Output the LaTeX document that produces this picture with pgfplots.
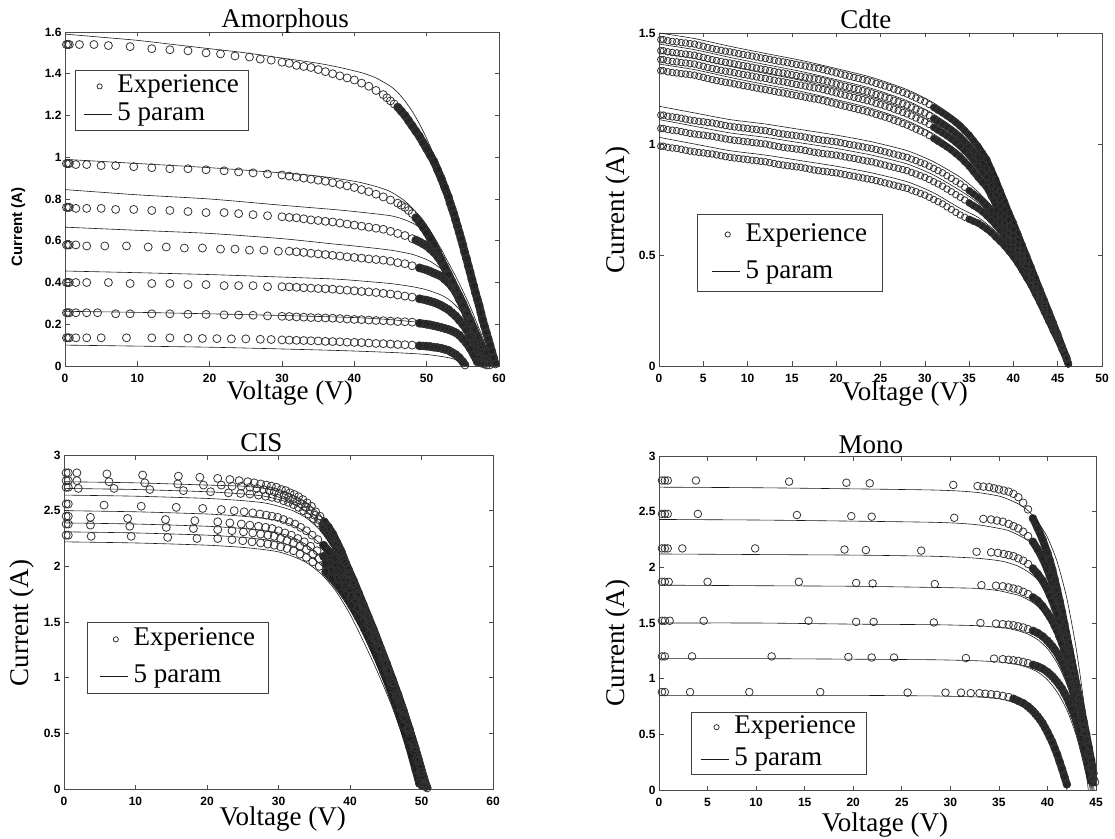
\documentclass[border=0pt]{standalone}
\usepackage{fontspec}
\setmainfont{Liberation Serif}
\newfontfamily\sansf{Liberation Sans}
\usepackage{pgfplots}
\usepackage{pgfplotstable}
\pgfplotsset{compat=1.18}

\newcommand\tickf{\sansf\bfseries\fontsize{12}{12}\selectfont}
\newcommand\labf{\fontsize{27}{29}\selectfont}
\newcommand\titf{\fontsize{27}{29}\selectfont}

\pgfplotsset{
  panel/.style={
    scale only axis,
    axis line style={black!70, line width=0.7pt},
    tick align=inside,
    major tick length=4.5pt,
    every tick/.style={black!70, line width=0.6pt},
    tick label style={font=\tickf},
    xticklabel style={yshift=-5pt},
    /pgf/number format/assume math mode=true,
    title style={font=\titf, anchor=base},
    xlabel style={font=\labf, anchor=base},
    ylabel style={font=\labf, anchor=center},
    legend cell align=left,
    legend style={draw=black!75, line width=0.7pt, fill=white, font=\labf,
      nodes={inner sep=1.5pt, text height=19pt, text depth=6pt},
      /tikz/every odd column/.append style={column sep=4pt}},
  },
  exp/.style={only marks, mark=o, mark size=4pt,
    mark options={draw=black!80, line width=0.8pt},
    legend image code/.code={\path[draw=none] (0pt,0pt) -- (28pt,0pt);
      \draw[##1, only marks, mark size=2.6pt] plot coordinates {(16pt,0pt)};}},
  fit/.style={no marks, smooth, tension=0.4, black!90, line width=0.6pt,
    legend image code/.code={\draw[##1, sharp plot] (0pt,0pt) -- (28pt,0pt);}},
  % where the measured points are so dense that they merge into a black band
  band/.style={no marks, forget plot, black!85, line width=8pt,
    line cap=round, line join=round},
}

% ---------- Amorphous, measured ----------
\pgfplotstableread[row sep=\\]{V I\\
0.2 1.54\\0.4 1.54\\0.6 1.54\\2 1.54\\4 1.54\\6 1.535\\9 1.53\\12 1.52\\14.5 1.515\\17 1.51\\19.5 1.50\\21.5 1.495\\23.5 1.485\\25.5 1.48\\27 1.47\\28.5 1.465\\30 1.455\\31 1.45\\32 1.44\\33 1.435\\34 1.43\\35 1.42\\36 1.41\\37 1.40\\38 1.39\\39 1.38\\40 1.37\\41 1.355\\42 1.34\\43 1.32\\44 1.30\\44.5 1.285\\45 1.27\\45.5 1.255\\46 1.24\\46.5 1.22\\47 1.20\\47.5 1.175\\48 1.15\\48.5 1.125\\49 1.10\\49.5 1.07\\50 1.04\\50.5 1.01\\51 0.98\\51.5 0.94\\52 0.90\\52.5 0.855\\53 0.81\\53.25 0.78\\53.5 0.755\\53.75 0.73\\54 0.70\\54.25 0.67\\54.5 0.64\\54.75 0.61\\55 0.58\\55.25 0.545\\55.5 0.515\\55.75 0.48\\56 0.45\\56.25 0.415\\56.5 0.385\\56.75 0.35\\57 0.32\\57.25 0.29\\57.5 0.255\\57.75 0.22\\58 0.19\\58.25 0.16\\58.5 0.13\\58.75 0.10\\59 0.07\\59.25 0.04\\59.5 0.01\\
}\amA
\pgfplotstableread[row sep=\\]{V I\\
0.2 0.97\\0.4 0.97\\0.6 0.97\\1.5 0.965\\3 0.965\\5 0.96\\7 0.96\\9.5 0.955\\12 0.95\\14.5 0.945\\17 0.945\\19.5 0.94\\22 0.935\\24 0.93\\26 0.925\\28 0.92\\30 0.915\\31 0.91\\32 0.905\\33 0.90\\34 0.895\\35 0.89\\36 0.885\\37 0.878\\38 0.87\\39 0.863\\40 0.855\\41 0.845\\42 0.835\\43 0.823\\44 0.81\\45 0.795\\46 0.78\\46.5 0.77\\47 0.76\\47.5 0.745\\48 0.73\\48.5 0.71\\49 0.69\\49.5 0.665\\50 0.64\\50.5 0.61\\51 0.58\\51.5 0.545\\52 0.51\\52.5 0.475\\53 0.44\\53.5 0.405\\54 0.37\\54.5 0.335\\55 0.30\\55.5 0.26\\56 0.22\\56.5 0.18\\57 0.14\\57.5 0.10\\58 0.06\\58.5 0.02\\58.7 0.005\\
}\amB
\pgfplotstableread[row sep=\\]{V I\\
0.2 0.76\\0.4 0.76\\0.6 0.76\\1.5 0.755\\3 0.755\\5 0.755\\7 0.75\\9.5 0.75\\12 0.745\\14.5 0.745\\17 0.74\\19.5 0.735\\22 0.735\\24 0.73\\26 0.725\\28 0.72\\30 0.715\\31 0.712\\32 0.71\\33 0.705\\34 0.70\\35 0.697\\36 0.693\\37 0.69\\38 0.685\\39 0.68\\40 0.675\\41 0.67\\42 0.665\\43 0.66\\44 0.655\\45 0.645\\46 0.635\\47 0.625\\48 0.61\\48.5 0.603\\49 0.595\\49.5 0.585\\50 0.575\\50.5 0.56\\51 0.545\\51.5 0.525\\52 0.50\\52.5 0.47\\53 0.435\\53.5 0.40\\54 0.365\\54.5 0.328\\55 0.29\\55.5 0.25\\56 0.21\\56.5 0.17\\57 0.125\\57.5 0.08\\58 0.035\\58.3 0.005\\
}\amC
\pgfplotstableread[row sep=\\]{V I\\
0.2 0.58\\0.4 0.58\\0.6 0.58\\1.5 0.58\\3 0.575\\5.5 0.575\\8.5 0.575\\11.5 0.57\\14 0.57\\16.5 0.565\\19 0.565\\21.5 0.56\\23.5 0.56\\25.5 0.555\\27.5 0.555\\29.5 0.55\\31 0.55\\32 0.547\\33 0.544\\34 0.54\\35 0.537\\36 0.534\\37 0.53\\38 0.527\\39 0.523\\40 0.52\\41 0.517\\42 0.513\\43 0.51\\44 0.507\\45 0.502\\46 0.495\\47 0.49\\48 0.48\\49 0.47\\50 0.46\\50.5 0.453\\51 0.445\\51.5 0.438\\52 0.43\\52.5 0.415\\53 0.40\\53.5 0.38\\54 0.355\\54.5 0.32\\55 0.285\\55.5 0.245\\56 0.205\\56.5 0.16\\57 0.115\\57.5 0.065\\57.9 0.01\\
}\amD
\pgfplotstableread[row sep=\\]{V I\\
0.2 0.40\\0.4 0.40\\0.6 0.40\\1.5 0.40\\3 0.40\\6 0.40\\9 0.395\\12 0.395\\14.5 0.395\\17 0.39\\19.5 0.39\\22 0.385\\24 0.385\\26 0.385\\28 0.38\\30 0.38\\31 0.379\\32 0.377\\33 0.375\\34 0.373\\35 0.371\\36 0.37\\37 0.368\\38 0.365\\39 0.363\\40 0.36\\41 0.357\\42 0.355\\43 0.352\\44 0.348\\45 0.345\\46 0.34\\47 0.335\\48 0.33\\49 0.322\\50 0.315\\50.5 0.31\\51 0.305\\51.5 0.298\\52 0.29\\52.5 0.28\\53 0.27\\53.5 0.255\\54 0.24\\54.5 0.22\\55 0.20\\55.5 0.175\\56 0.145\\56.5 0.11\\57 0.07\\57.3 0.04\\57.5 0.015\\
}\amE
\pgfplotstableread[row sep=\\]{V I\\
0.2 0.255\\0.4 0.255\\0.6 0.255\\1.5 0.255\\3 0.255\\4.5 0.255\\7 0.25\\9 0.25\\12 0.25\\14.5 0.25\\17 0.248\\19.5 0.247\\22 0.245\\24 0.244\\26 0.243\\28 0.24\\30 0.238\\31 0.237\\32 0.235\\33 0.234\\34 0.232\\35 0.231\\36 0.23\\37 0.229\\38 0.227\\39 0.225\\40 0.223\\41 0.222\\42 0.22\\43 0.218\\44 0.217\\45 0.215\\46 0.213\\47 0.212\\48 0.21\\49 0.205\\50 0.20\\50.5 0.197\\51 0.193\\51.5 0.189\\52 0.185\\52.5 0.18\\53 0.175\\53.5 0.168\\54 0.16\\54.5 0.148\\55 0.13\\55.5 0.11\\56 0.085\\56.5 0.055\\57 0.02\\
}\amF
\pgfplotstableread[row sep=\\]{V I\\
0.2 0.135\\0.4 0.135\\0.6 0.135\\1.5 0.135\\3 0.135\\5 0.135\\8.5 0.135\\12 0.135\\14.5 0.135\\17 0.133\\19 0.132\\21 0.131\\23 0.13\\25 0.13\\27 0.128\\28.5 0.127\\30 0.125\\31 0.124\\32 0.123\\33 0.122\\34 0.121\\35 0.12\\36 0.118\\37 0.117\\38 0.116\\39 0.114\\40 0.113\\41 0.112\\42 0.11\\43 0.108\\44 0.107\\45 0.105\\46 0.103\\47 0.102\\48 0.10\\49 0.097\\50 0.095\\50.5 0.093\\51 0.09\\51.5 0.088\\52 0.085\\52.5 0.08\\53 0.075\\53.5 0.065\\54 0.055\\54.5 0.04\\55 0.02\\55.3 0.005\\
}\amG

% ---------- Cdte, measured (common voltage grid) ----------
\pgfplotstableread{
V C1 C2 C3 C4 C5 C6 C7
0.2 1.47 1.42 1.38 1.33 1.13 1.07 0.99
0.5 1.47 1.42 1.38 1.33 1.13 1.07 0.99
1 1.465 1.415 1.375 1.325 1.125 1.065 0.985
1.5 1.462 1.412 1.372 1.322 1.122 1.062 0.982
2 1.46 1.41 1.37 1.32 1.12 1.06 0.98
2.5 1.457 1.407 1.367 1.317 1.116 1.056 0.976
3 1.455 1.405 1.365 1.315 1.112 1.052 0.972
3.5 1.452 1.402 1.362 1.312 1.108 1.048 0.968
4 1.45 1.40 1.36 1.31 1.105 1.045 0.965
4.5 1.445 1.395 1.355 1.305 1.102 1.042 0.962
5 1.44 1.39 1.35 1.30 1.10 1.04 0.96
5.5 1.435 1.385 1.345 1.295 1.097 1.037 0.957
6 1.43 1.38 1.34 1.29 1.095 1.035 0.955
6.5 1.426 1.376 1.336 1.286 1.091 1.031 0.951
7 1.422 1.372 1.332 1.282 1.087 1.027 0.947
7.5 1.418 1.368 1.328 1.278 1.083 1.023 0.943
8 1.415 1.365 1.325 1.275 1.08 1.02 0.94
8.5 1.411 1.361 1.321 1.271 1.077 1.017 0.937
9 1.407 1.357 1.317 1.267 1.075 1.015 0.935
9.5 1.403 1.353 1.313 1.263 1.072 1.012 0.932
10 1.40 1.35 1.31 1.26 1.07 1.01 0.93
10.5 1.396 1.346 1.306 1.256 1.067 1.007 0.927
11 1.392 1.342 1.302 1.252 1.065 1.005 0.925
11.5 1.388 1.338 1.298 1.248 1.062 1.002 0.922
12 1.385 1.335 1.295 1.245 1.06 1.00 0.92
12.5 1.381 1.331 1.291 1.241 1.056 0.996 0.916
13 1.377 1.327 1.287 1.237 1.052 0.992 0.912
13.5 1.373 1.323 1.283 1.233 1.048 0.988 0.908
14 1.37 1.32 1.28 1.23 1.045 0.985 0.905
14.5 1.366 1.316 1.276 1.226 1.042 0.982 0.902
15 1.362 1.312 1.272 1.222 1.04 0.98 0.90
15.5 1.358 1.308 1.268 1.218 1.037 0.977 0.897
16 1.355 1.305 1.265 1.215 1.035 0.975 0.895
16.5 1.351 1.301 1.261 1.211 1.031 0.971 0.891
17 1.347 1.297 1.257 1.207 1.027 0.967 0.887
17.5 1.343 1.293 1.253 1.203 1.023 0.963 0.883
18 1.34 1.29 1.25 1.20 1.02 0.96 0.88
18.5 1.335 1.285 1.245 1.195 1.017 0.957 0.877
19 1.33 1.28 1.24 1.19 1.015 0.955 0.875
19.5 1.325 1.275 1.235 1.185 1.012 0.952 0.872
20 1.32 1.27 1.23 1.18 1.01 0.95 0.87
20.5 1.315 1.265 1.225 1.175 1.006 0.946 0.866
21 1.31 1.26 1.22 1.17 1.002 0.942 0.862
21.5 1.305 1.255 1.215 1.165 0.998 0.938 0.858
22 1.30 1.25 1.21 1.16 0.995 0.935 0.855
22.5 1.295 1.245 1.205 1.155 0.991 0.931 0.851
23 1.29 1.24 1.20 1.15 0.987 0.927 0.847
23.5 1.285 1.235 1.195 1.145 0.983 0.923 0.843
24 1.28 1.23 1.19 1.14 0.98 0.92 0.84
24.5 1.273 1.223 1.183 1.133 0.975 0.915 0.835
25 1.267 1.217 1.177 1.127 0.97 0.91 0.83
25.5 1.261 1.211 1.171 1.121 0.965 0.905 0.825
26 1.255 1.205 1.165 1.115 0.96 0.90 0.82
26.5 1.247 1.197 1.157 1.107 0.955 0.895 0.815
27 1.24 1.19 1.15 1.10 0.95 0.89 0.81
27.5 1.232 1.182 1.142 1.092 0.945 0.885 0.805
28 1.225 1.175 1.135 1.085 0.94 0.88 0.80
28.5 1.216 1.166 1.126 1.076 0.932 0.872 0.792
29 1.207 1.157 1.117 1.067 0.925 0.865 0.785
29.5 1.198 1.148 1.108 1.058 0.917 0.857 0.777
30 1.19 1.14 1.10 1.05 0.91 0.85 0.77
30.5 1.178 1.128 1.088 1.038 0.90 0.84 0.76
31 1.165 1.115 1.075 1.025 0.89 0.83 0.75
31.5 1.152 1.102 1.062 1.012 0.88 0.82 0.74
32 1.14 1.09 1.05 1.00 0.87 0.81 0.73
32.5 1.127 1.077 1.037 0.987 0.857 0.797 0.717
33 1.113 1.063 1.023 0.973 0.845 0.785 0.705
33.5 1.097 1.047 1.007 0.957 0.832 0.772 0.692
34 1.08 1.03 0.99 0.94 0.82 0.76 0.68
34.5 1.06 1.01 0.97 0.92 0.805 0.748 0.67
35 1.04 0.99 0.95 0.90 0.79 0.735 0.661
35.5 1.015 0.965 0.925 0.875 0.775 0.722 0.652
36 0.99 0.94 0.90 0.85 0.76 0.71 0.644
36.5 0.96 0.912 0.874 0.827 0.742 0.695 0.631
37 0.93 0.885 0.849 0.804 0.722 0.677 0.617
37.5 0.885 0.842 0.808 0.766 0.70 0.657 0.601
38 0.84 0.799 0.767 0.727 0.675 0.635 0.581
38.5 0.79 0.752 0.722 0.684 0.65 0.612 0.562
39 0.74 0.704 0.676 0.641 0.622 0.587 0.541
39.5 0.69 0.657 0.631 0.598 0.593 0.561 0.517
40 0.645 0.614 0.59 0.56 0.562 0.532 0.492
40.5 0.595 0.567 0.545 0.517 0.527 0.499 0.463
41 0.545 0.519 0.499 0.474 0.49 0.465 0.431
41.5 0.495 0.471 0.453 0.429 0.45 0.427 0.397
42 0.445 0.424 0.407 0.386 0.41 0.39 0.364
42.5 0.395 0.376 0.362 0.343 0.365 0.348 0.324
43 0.345 0.329 0.316 0.30 0.32 0.305 0.285
43.5 0.295 0.281 0.271 0.257 0.272 0.259 0.243
44 0.245 0.234 0.225 0.214 0.225 0.215 0.201
44.5 0.195 0.186 0.18 0.171 0.177 0.169 0.159
45 0.145 0.138 0.133 0.127 0.13 0.125 0.119
45.5 0.09 0.086 0.083 0.079 0.08 0.078 0.074
46 0.04 0.038 0.037 0.036 0.03 0.03 0.03
46.2 0.01 0.01 0.01 0.01 0.01 0.01 0.01
}\cdte

% ---------- Cdte, model ----------
\pgfplotstableread{
V F1 F2 F3 F4 F5 F6 F7
0 1.50 1.45 1.41 1.36 1.17 1.11 1.03
4 1.475 1.425 1.385 1.335 1.14 1.08 1.00
8 1.44 1.39 1.35 1.30 1.11 1.05 0.97
12 1.408 1.358 1.318 1.268 1.09 1.03 0.95
16 1.377 1.327 1.287 1.237 1.065 1.005 0.925
20 1.34 1.29 1.25 1.20 1.04 0.98 0.90
24 1.30 1.25 1.21 1.16 1.01 0.95 0.87
28 1.245 1.195 1.155 1.105 0.97 0.91 0.83
31 1.185 1.135 1.095 1.045 0.92 0.86 0.78
34 1.10 1.05 1.01 0.96 0.85 0.79 0.71
36 1.008 0.958 0.918 0.868 0.785 0.735 0.67
38 0.855 0.814 0.782 0.742 0.70 0.66 0.606
40 0.657 0.626 0.602 0.572 0.582 0.552 0.512
42 0.455 0.434 0.417 0.396 0.42 0.40 0.374
44 0.252 0.241 0.232 0.221 0.23 0.22 0.21
45 0.15 0.143 0.138 0.132 0.135 0.13 0.125
46 0.04 0.038 0.037 0.036 0.03 0.03 0.03
46.2 0 0 0 0 0 0 0
}\cdtefit

% ---------- CIS, measured ----------
\pgfplotstableread[row sep=\\]{V I\\
0.3 2.84\\0.6 2.84\\1.8 2.84\\6 2.83\\11 2.82\\16 2.81\\19 2.80\\21.5 2.79\\23.2 2.78\\24.5 2.77\\25.7 2.76\\26.6 2.75\\27.5 2.74\\28.3 2.73\\29 2.72\\29.7 2.71\\30.4 2.69\\31 2.68\\31.6 2.66\\32.2 2.645\\32.8 2.625\\33.4 2.60\\34 2.57\\34.6 2.54\\35.2 2.49\\35.8 2.45\\36.4 2.40\\37 2.35\\37.6 2.29\\38.2 2.21\\38.8 2.13\\39.4 2.03\\40 1.93\\40.6 1.84\\41.2 1.74\\41.8 1.64\\42.4 1.54\\43 1.45\\43.6 1.35\\44.2 1.25\\44.8 1.15\\45.4 1.05\\46 0.95\\46.6 0.84\\47.2 0.73\\47.8 0.62\\48.4 0.50\\49 0.38\\49.6 0.25\\50.2 0.12\\50.8 0.01\\
}\ciA
\pgfplotstableread[row sep=\\]{V I\\
0.3 2.77\\0.6 2.77\\1.8 2.77\\6.3 2.76\\11.3 2.75\\15.9 2.74\\19.5 2.73\\22 2.73\\23.5 2.72\\24.8 2.72\\26 2.71\\27 2.70\\27.9 2.69\\28.7 2.68\\29.4 2.67\\30.1 2.655\\30.8 2.64\\31.4 2.62\\32 2.60\\32.6 2.58\\33.2 2.56\\33.8 2.53\\34.4 2.50\\35 2.46\\35.6 2.42\\36.2 2.37\\36.8 2.32\\37.4 2.26\\38 2.19\\38.6 2.11\\39.2 2.03\\39.8 1.94\\40.4 1.85\\41 1.75\\41.6 1.66\\42.2 1.56\\42.8 1.46\\43.4 1.37\\44 1.27\\44.6 1.17\\45.2 1.07\\45.8 0.96\\46.4 0.86\\47 0.75\\47.6 0.64\\48.2 0.52\\48.8 0.40\\49.4 0.28\\50 0.15\\50.6 0.02\\
}\ciB
\pgfplotstableread[row sep=\\]{V I\\
0.3 2.71\\0.6 2.71\\2 2.70\\7 2.70\\12 2.69\\16.7 2.68\\20.5 2.67\\23 2.66\\24.7 2.655\\26 2.65\\27.2 2.64\\28.2 2.63\\29.1 2.62\\29.9 2.61\\30.7 2.59\\31.4 2.575\\32.1 2.555\\32.8 2.53\\33.5 2.50\\34.2 2.47\\34.9 2.43\\35.6 2.39\\36.3 2.34\\37 2.28\\37.7 2.21\\38.4 2.14\\39.1 2.06\\39.8 1.97\\40.5 1.87\\41.2 1.76\\41.9 1.65\\42.6 1.54\\43.3 1.43\\44 1.31\\44.7 1.19\\45.4 1.07\\46.1 0.95\\46.8 0.82\\47.5 0.69\\48.2 0.55\\48.9 0.41\\49.6 0.26\\50.3 0.10\\50.6 0.03\\
}\ciC
\pgfplotstableread[row sep=\\]{V I\\
0.3 2.56\\0.6 2.56\\5.6 2.55\\10.8 2.54\\15.7 2.53\\19.4 2.52\\22 2.51\\23.8 2.50\\25.2 2.49\\26.4 2.48\\27.4 2.47\\28.3 2.46\\29.1 2.45\\29.9 2.44\\30.7 2.42\\31.5 2.40\\32.3 2.38\\33.1 2.35\\33.9 2.32\\34.7 2.28\\35.5 2.24\\36.3 2.19\\37.1 2.13\\37.9 2.07\\38.7 2.00\\39.5 1.92\\40.3 1.83\\41.1 1.73\\41.9 1.62\\42.7 1.51\\43.5 1.39\\44.3 1.26\\45.1 1.13\\45.9 0.99\\46.7 0.85\\47.5 0.70\\48.3 0.54\\49.1 0.37\\49.9 0.19\\50.5 0.05\\
}\ciD
\pgfplotstableread[row sep=\\]{V I\\
0.3 2.45\\0.6 2.45\\3.7 2.44\\8.9 2.43\\14.2 2.42\\18.3 2.41\\21.5 2.40\\23.2 2.39\\24.8 2.38\\26 2.37\\27.2 2.36\\28.2 2.35\\29.1 2.34\\30 2.32\\30.9 2.30\\31.8 2.28\\32.7 2.25\\33.6 2.22\\34.5 2.18\\35.4 2.14\\36.3 2.09\\37.2 2.03\\38.1 1.96\\39 1.89\\39.9 1.80\\40.8 1.70\\41.7 1.59\\42.6 1.47\\43.5 1.34\\44.4 1.20\\45.3 1.05\\46.2 0.89\\47.1 0.72\\48 0.54\\48.9 0.35\\49.8 0.15\\50.3 0.04\\
}\ciE
\pgfplotstableread[row sep=\\]{V I\\
0.3 2.38\\0.6 2.38\\3.7 2.37\\9.2 2.36\\14.3 2.35\\18.1 2.34\\21.5 2.33\\23.5 2.32\\25.1 2.31\\26.4 2.30\\27.5 2.29\\28.5 2.28\\29.4 2.27\\30.3 2.25\\31.2 2.23\\32.1 2.21\\33 2.18\\33.9 2.15\\34.8 2.11\\35.7 2.07\\36.6 2.02\\37.5 1.96\\38.4 1.89\\39.3 1.82\\40.2 1.73\\41.1 1.63\\42 1.52\\42.9 1.40\\43.8 1.27\\44.7 1.13\\45.6 0.98\\46.5 0.82\\47.4 0.65\\48.3 0.46\\49.2 0.26\\49.9 0.09\\50.1 0.03\\
}\ciF
\pgfplotstableread[row sep=\\]{V I\\
0.3 2.28\\0.6 2.28\\3.8 2.27\\9.4 2.27\\14.5 2.26\\18.6 2.25\\21.5 2.25\\23.5 2.24\\25 2.23\\26.3 2.22\\27.5 2.21\\28.5 2.20\\29.4 2.19\\30.3 2.175\\31.2 2.16\\32.1 2.14\\33 2.11\\33.9 2.08\\34.8 2.04\\35.7 2.00\\36.6 1.95\\37.5 1.89\\38.4 1.82\\39.3 1.74\\40.2 1.65\\41.1 1.55\\42 1.44\\42.9 1.32\\43.8 1.19\\44.7 1.05\\45.6 0.90\\46.5 0.74\\47.4 0.57\\48.3 0.38\\49.2 0.17\\49.7 0.05\\
}\ciG

% ---------- Mono, measured ----------
\pgfplotstableread[row sep=\\]{V I\\
0.3 2.78\\0.6 2.78\\0.9 2.78\\3.8 2.78\\13.4 2.77\\19.3 2.76\\21.7 2.755\\30.3 2.74\\32.8 2.73\\33.4 2.725\\34 2.72\\34.5 2.71\\35 2.70\\35.5 2.69\\36 2.68\\36.5 2.66\\37 2.63\\37.5 2.58\\38 2.52\\38.5 2.44\\39 2.35\\39.5 2.25\\40 2.13\\40.25 2.06\\40.5 1.98\\40.75 1.89\\41 1.80\\41.25 1.70\\41.5 1.60\\41.75 1.49\\42 1.38\\42.25 1.27\\42.5 1.16\\42.75 1.05\\43 0.94\\43.25 0.83\\43.5 0.72\\43.75 0.61\\44 0.50\\44.25 0.385\\44.5 0.27\\44.75 0.15\\44.9 0.07\\
}\moA
\pgfplotstableread[row sep=\\]{V I\\
0.3 2.48\\0.6 2.48\\0.9 2.48\\4 2.48\\14.2 2.47\\19.8 2.46\\21.9 2.455\\30.4 2.445\\33.4 2.435\\34.2 2.43\\34.8 2.42\\35.4 2.41\\36 2.39\\36.5 2.37\\37 2.35\\37.5 2.32\\38 2.28\\38.5 2.23\\39 2.16\\39.5 2.08\\40 1.98\\40.25 1.92\\40.5 1.86\\40.75 1.79\\41 1.72\\41.25 1.64\\41.5 1.55\\41.75 1.46\\42 1.36\\42.25 1.26\\42.5 1.15\\42.75 1.04\\43 0.93\\43.25 0.815\\43.5 0.70\\43.75 0.58\\44 0.46\\44.25 0.34\\44.5 0.22\\44.75 0.10\\
}\moB
\pgfplotstableread[row sep=\\]{V I\\
0.3 2.17\\0.6 2.17\\0.9 2.17\\2.4 2.17\\9.9 2.17\\19.1 2.16\\21.3 2.155\\27 2.15\\32.7 2.14\\34.2 2.135\\34.9 2.13\\35.5 2.12\\36 2.11\\36.5 2.10\\37 2.08\\37.5 2.06\\38 2.03\\38.5 1.99\\39 1.94\\39.5 1.88\\40 1.80\\40.25 1.75\\40.5 1.70\\40.75 1.64\\41 1.58\\41.25 1.51\\41.5 1.44\\41.75 1.36\\42 1.28\\42.25 1.19\\42.5 1.10\\42.75 1.00\\43 0.90\\43.25 0.79\\43.5 0.68\\43.75 0.565\\44 0.45\\44.25 0.325\\44.5 0.20\\44.7 0.10\\
}\moC
\pgfplotstableread[row sep=\\]{V I\\
0.3 1.87\\0.6 1.87\\1 1.87\\5 1.87\\14.4 1.87\\20.3 1.86\\22 1.855\\28.4 1.85\\33.2 1.84\\34.7 1.835\\35.4 1.83\\36 1.82\\36.5 1.81\\37 1.80\\37.5 1.78\\38 1.76\\38.5 1.73\\39 1.70\\39.5 1.65\\40 1.59\\40.25 1.555\\40.5 1.52\\40.75 1.475\\41 1.43\\41.25 1.375\\41.5 1.32\\41.75 1.255\\42 1.19\\42.25 1.115\\42.5 1.04\\42.75 0.955\\43 0.87\\43.25 0.77\\43.5 0.67\\43.75 0.56\\44 0.45\\44.25 0.33\\44.5 0.21\\44.7 0.11\\
}\moD
\pgfplotstableread[row sep=\\]{V I\\
0.3 1.52\\0.6 1.52\\1.1 1.52\\4.6 1.52\\15.4 1.52\\20.3 1.51\\22.1 1.51\\28.3 1.505\\33.1 1.50\\34.7 1.495\\35.4 1.49\\36 1.485\\36.5 1.48\\37 1.47\\37.5 1.46\\38 1.445\\38.5 1.43\\39 1.41\\39.5 1.38\\40 1.34\\40.25 1.315\\40.5 1.29\\40.75 1.26\\41 1.23\\41.25 1.19\\41.5 1.15\\41.75 1.10\\42 1.05\\42.25 0.99\\42.5 0.93\\42.75 0.86\\43 0.79\\43.25 0.705\\43.5 0.62\\43.75 0.52\\44 0.42\\44.25 0.305\\44.5 0.19\\44.6 0.12\\
}\moE
\pgfplotstableread[row sep=\\]{V I\\
0.3 1.20\\0.6 1.20\\3.4 1.20\\11.6 1.20\\19.5 1.195\\21.9 1.19\\24.2 1.19\\31.6 1.185\\34.5 1.18\\35.4 1.175\\36 1.17\\36.5 1.165\\37 1.16\\37.5 1.15\\38 1.14\\38.5 1.125\\39 1.11\\39.5 1.09\\40 1.06\\40.25 1.04\\40.5 1.02\\40.75 0.995\\41 0.97\\41.25 0.94\\41.5 0.91\\41.75 0.87\\42 0.83\\42.25 0.78\\42.5 0.73\\42.75 0.67\\43 0.61\\43.25 0.535\\43.5 0.46\\43.75 0.375\\44 0.29\\44.25 0.185\\44.5 0.08\\
}\moF
\pgfplotstableread[row sep=\\]{V I\\
0.3 0.88\\0.6 0.88\\3.2 0.88\\9.3 0.88\\16.6 0.88\\25.6 0.875\\29.5 0.875\\31.1 0.875\\32.1 0.87\\33 0.87\\33.6 0.865\\34.2 0.86\\34.8 0.855\\35.4 0.845\\36 0.835\\36.5 0.82\\37 0.80\\37.5 0.78\\38 0.75\\38.25 0.73\\38.5 0.71\\38.75 0.685\\39 0.66\\39.25 0.63\\39.5 0.60\\39.75 0.56\\40 0.52\\40.25 0.475\\40.5 0.43\\40.75 0.375\\41 0.32\\41.25 0.255\\41.5 0.19\\41.75 0.12\\42 0.05\\
}\moG

\begin{document}
\begin{tikzpicture}
\path[use as bounding box] (0pt,0pt) rectangle (1115pt,838pt);

% ---------------- Amorphous ----------------
\begin{axis}[panel, at={(65pt,472pt)}, anchor=south west,
  width=434pt, height=334pt,
  xmin=0, xmax=60, ymin=0, ymax=1.6,
  xtick={0,10,20,30,40,50,60},
  ytick={0,0.2,0.4,0.6,0.8,1,1.2,1.4,1.6},
  title={Amorphous}, title style={at={(axis description cs:0.507,1)}, yshift=-2pt},
  xlabel={Voltage (V)}, xlabel style={at={(axis description cs:0.518,-0.1)}},
  ylabel={Current (A)}, ylabel style={at={(axis description cs:-0.108,0.416)},
    font=\sansf\bfseries\fontsize{15}{15}\selectfont},
  legend style={at={(axis description cs:0.023,0.886)}, anchor=north west,
    inner xsep=8pt, inner ysep=2pt},
]
\addplot[band, restrict x to domain=46:60] table {\amA};
\addplot[band, restrict x to domain=48.5:60] table {\amB};
\addplot[band, restrict x to domain=48.5:60] table {\amC};
\addplot[band, restrict x to domain=48.5:60] table {\amD};
\addplot[band, restrict x to domain=48.5:60] table {\amE};
\addplot[band, restrict x to domain=48.5:60] table {\amF};
\addplot[band, restrict x to domain=48.5:60] table {\amG};
\addplot[exp] table {\amA};
\addlegendentry{Experience}
\addplot[fit] coordinates {(0,1.59)(5,1.575)(10,1.56)(15,1.54)(20,1.52)(25,1.50)(30,1.475)(35,1.45)(38,1.43)(41,1.405)(43,1.38)(45,1.34)(46,1.31)(47,1.27)(48,1.22)(49,1.16)(50,1.09)(51,1.01)(52,0.92)(53,0.82)(54,0.71)(55,0.59)(56,0.46)(57,0.33)(58,0.19)(59,0.06)(59.5,0)};
\addlegendentry{5 param}
\addplot[exp, forget plot] table {\amB};
\addplot[exp, forget plot] table {\amC};
\addplot[exp, forget plot] table {\amD};
\addplot[exp, forget plot] table {\amE};
\addplot[exp, forget plot] table {\amF};
\addplot[exp, forget plot] table {\amG};
\addplot[fit, forget plot] coordinates {(0,0.99)(10,0.97)(20,0.95)(30,0.925)(35,0.91)(40,0.885)(43,0.86)(45,0.835)(47,0.79)(49,0.72)(50,0.675)(51,0.62)(52,0.56)(53,0.495)(54,0.43)(55,0.36)(56,0.285)(57,0.20)(58,0.11)(58.7,0)};
\addplot[fit, forget plot] coordinates {(0,0.845)(10,0.82)(20,0.80)(30,0.77)(37,0.75)(40,0.74)(45,0.72)(47,0.70)(48,0.685)(49,0.665)(50,0.635)(51,0.59)(52,0.53)(53,0.46)(54,0.385)(55,0.31)(56,0.23)(57,0.14)(58,0.04)(58.3,0)};
\addplot[fit, forget plot] coordinates {(0,0.665)(10,0.65)(20,0.635)(30,0.61)(37,0.585)(40,0.575)(45,0.555)(48,0.535)(50,0.51)(51,0.49)(52,0.465)(53,0.43)(54,0.385)(55,0.325)(56,0.25)(57,0.15)(57.9,0)};
\addplot[fit, forget plot] coordinates {(0,0.455)(10,0.447)(20,0.438)(30,0.426)(37,0.417)(40,0.41)(45,0.395)(48,0.38)(50,0.365)(52,0.34)(53,0.32)(54,0.29)(55,0.25)(56,0.18)(57,0.08)(57.5,0)};
\addplot[fit, forget plot] coordinates {(0,0.262)(10,0.257)(20,0.25)(30,0.242)(40,0.232)(45,0.222)(50,0.205)(52,0.19)(53,0.18)(54,0.165)(55,0.14)(56,0.09)(57,0.02)(57.1,0)};
\addplot[fit, forget plot] coordinates {(0,0.10)(20,0.09)(37,0.075)(45,0.065)(50,0.055)(53,0.04)(54,0.03)(55,0.01)(55.2,0)};
\end{axis}

% ---------------- Cdte ----------------
\begin{axis}[panel, at={(659pt,472pt)}, anchor=south west,
  width=443pt, height=333pt,
  xmin=0, xmax=50, ymin=0, ymax=1.5,
  xtick={0,5,10,15,20,25,30,35,40,45,50},
  ytick={0,0.5,1,1.5},
  exp/.append style={mark size=3.3pt},
  band/.append style={line width=6.6pt},
  title={Cdte}, title style={at={(axis description cs:0.467,1)}, yshift=-2pt},
  xlabel={Voltage (V)}, xlabel style={at={(axis description cs:0.555,-0.103)}},
  ylabel={Current (A)}, ylabel style={at={(axis description cs:-0.0926,0.468)}},
  legend style={at={(axis description cs:0.086,0.456)}, anchor=north west,
    inner xsep=14pt, inner ysep=6pt, row sep=9pt},
]
\addplot[band, restrict x to domain=31:50] table[x=V, y=C1] {\cdte};
\addplot[band, restrict x to domain=31:50] table[x=V, y=C2] {\cdte};
\addplot[band, restrict x to domain=31:50] table[x=V, y=C3] {\cdte};
\addplot[band, restrict x to domain=31:50] table[x=V, y=C4] {\cdte};
\addplot[band, restrict x to domain=35:50] table[x=V, y=C5] {\cdte};
\addplot[band, restrict x to domain=35:50] table[x=V, y=C6] {\cdte};
\addplot[band, restrict x to domain=35:50] table[x=V, y=C7] {\cdte};
\addplot[exp] table[x=V, y=C1] {\cdte};
\addlegendentry{Experience}
\addplot[fit] table[x=V, y=F1] {\cdtefit};
\addlegendentry{5 param}
\addplot[exp, forget plot] table[x=V, y=C2] {\cdte};
\addplot[exp, forget plot] table[x=V, y=C3] {\cdte};
\addplot[exp, forget plot] table[x=V, y=C4] {\cdte};
\addplot[exp, forget plot] table[x=V, y=C5] {\cdte};
\addplot[exp, forget plot] table[x=V, y=C6] {\cdte};
\addplot[exp, forget plot] table[x=V, y=C7] {\cdte};
\addplot[fit, forget plot] table[x=V, y=F2] {\cdtefit};
\addplot[fit, forget plot] table[x=V, y=F3] {\cdtefit};
\addplot[fit, forget plot] table[x=V, y=F4] {\cdtefit};
\addplot[fit, forget plot] table[x=V, y=F5] {\cdtefit};
\addplot[fit, forget plot] table[x=V, y=F6] {\cdtefit};
\addplot[fit, forget plot] table[x=V, y=F7] {\cdtefit};
\end{axis}

% ---------------- CIS ----------------
\begin{axis}[panel, at={(64pt,49pt)}, anchor=south west,
  width=429pt, height=334pt,
  xmin=0, xmax=60, ymin=0, ymax=3,
  xtick={0,10,20,30,40,50,60},
  ytick={0,0.5,1,1.5,2,2.5,3},
  title={CIS}, title style={at={(axis description cs:0.46,1)}, yshift=-2pt},
  xlabel={Voltage (V)}, xlabel style={at={(axis description cs:0.51,-0.11)}},
  ylabel={Current (A)}, ylabel style={at={(axis description cs:-0.098,0.497)}},
  legend style={at={(axis description cs:0.054,0.5)}, anchor=north west,
    inner xsep=12pt, inner ysep=3pt, row sep=9pt},
]
\addplot[band, restrict x to domain=36:60] table {\ciA};
\addplot[band, restrict x to domain=36:60] table {\ciB};
\addplot[band, restrict x to domain=36:60] table {\ciC};
\addplot[band, restrict x to domain=36:60] table {\ciD};
\addplot[band, restrict x to domain=36:60] table {\ciE};
\addplot[band, restrict x to domain=36:60] table {\ciF};
\addplot[band, restrict x to domain=36:60] table {\ciG};
\addplot[exp] table {\ciA};
\addlegendentry{Experience}
\addplot[fit] coordinates {(0,2.76)(10,2.75)(20,2.73)(25,2.72)(28,2.70)(30,2.68)(32,2.64)(34,2.57)(36,2.45)(38,2.24)(40,1.95)(42,1.62)(44,1.29)(46,0.96)(48,0.60)(50,0.18)(50.8,0)};
\addlegendentry{5 param}
\addplot[exp, forget plot] table {\ciB};
\addplot[exp, forget plot] table {\ciC};
\addplot[exp, forget plot] table {\ciD};
\addplot[exp, forget plot] table {\ciE};
\addplot[exp, forget plot] table {\ciF};
\addplot[exp, forget plot] table {\ciG};
\addplot[fit, forget plot] coordinates {(0,2.70)(10,2.69)(20,2.67)(25,2.65)(28,2.63)(30,2.60)(32,2.56)(34,2.49)(36,2.37)(38,2.17)(40,1.90)(42,1.58)(44,1.26)(46,0.93)(48,0.56)(50,0.14)(50.6,0)};
\addplot[fit, forget plot] coordinates {(0,2.64)(10,2.63)(20,2.61)(25,2.59)(28,2.57)(30,2.54)(32,2.50)(34,2.43)(36,2.31)(38,2.12)(40,1.85)(42,1.54)(44,1.22)(46,0.89)(48,0.52)(50,0.10)(50.5,0)};
\addplot[fit, forget plot] coordinates {(0,2.50)(10,2.49)(20,2.47)(25,2.45)(28,2.43)(30,2.41)(32,2.37)(34,2.30)(36,2.19)(38,2.01)(40,1.77)(42,1.48)(44,1.17)(46,0.85)(48,0.48)(50,0.07)(50.4,0)};
\addplot[fit, forget plot] coordinates {(0,2.39)(10,2.38)(20,2.36)(25,2.34)(28,2.32)(30,2.30)(32,2.26)(34,2.19)(36,2.08)(38,1.92)(40,1.69)(42,1.42)(44,1.12)(46,0.81)(48,0.44)(50,0.03)(50.2,0)};
\addplot[fit, forget plot] coordinates {(0,2.31)(10,2.30)(20,2.28)(25,2.26)(28,2.24)(30,2.22)(32,2.18)(34,2.11)(36,2.01)(38,1.85)(40,1.63)(42,1.37)(44,1.08)(46,0.77)(48,0.40)(49.9,0.02)(50,0)};
\addplot[fit, forget plot] coordinates {(0,2.22)(10,2.21)(20,2.19)(25,2.17)(28,2.15)(30,2.13)(32,2.09)(34,2.03)(36,1.93)(38,1.78)(40,1.57)(42,1.31)(44,1.03)(46,0.72)(48,0.35)(49.7,0)};
\end{axis}

% ---------------- Mono ----------------
\begin{axis}[panel, at={(659pt,48pt)}, anchor=south west,
  width=437pt, height=334pt,
  xmin=0, xmax=45, ymin=0, ymax=3,
  xtick={0,5,10,15,20,25,30,35,40,45},
  ytick={0,0.5,1,1.5,2,2.5,3},
  exp/.append style={mark size=3.8pt},
  band/.append style={line width=7.6pt},
  title={Mono}, title style={at={(axis description cs:0.485,1)}, yshift=-3pt},
  xlabel={Voltage (V)}, xlabel style={at={(axis description cs:0.517,-0.123)}},
  ylabel={Current (A)}, ylabel style={at={(axis description cs:-0.094,0.44)}},
  legend style={at={(axis description cs:0.073,0.234)}, anchor=north west,
    inner xsep=9pt, inner ysep=1pt, row sep=4pt},
]
\addplot[band, restrict x to domain=38.5:45] table {\moA};
\addplot[band, restrict x to domain=38.5:45] table {\moB};
\addplot[band, restrict x to domain=38.5:45] table {\moC};
\addplot[band, restrict x to domain=38.5:45] table {\moD};
\addplot[band, restrict x to domain=38.5:45] table {\moE};
\addplot[band, restrict x to domain=38.5:45] table {\moF};
\addplot[band, restrict x to domain=36.5:45] table {\moG};
\addplot[exp] table {\moA};
\addlegendentry{Experience}
\addplot[fit] coordinates {(0,2.72)(10,2.715)(20,2.705)(28,2.695)(31,2.685)(33,2.67)(35,2.64)(36,2.61)(37,2.57)(38,2.51)(39,2.41)(40,2.27)(41,2.05)(42,1.72)(43,1.25)(44,0.62)(44.8,0)};
\addlegendentry{5 param}
\addplot[exp, forget plot] table {\moB};
\addplot[exp, forget plot] table {\moC};
\addplot[exp, forget plot] table {\moD};
\addplot[exp, forget plot] table {\moE};
\addplot[exp, forget plot] table {\moF};
\addplot[exp, forget plot] table {\moG};
\addplot[fit, forget plot] coordinates {(0,2.43)(10,2.425)(20,2.415)(28,2.405)(31,2.395)(33,2.38)(35,2.35)(36,2.33)(37,2.29)(38,2.24)(39,2.15)(40,2.01)(41,1.80)(42,1.49)(43,1.04)(44,0.45)(44.7,0)};
\addplot[fit, forget plot] coordinates {(0,2.12)(10,2.115)(20,2.11)(28,2.10)(31,2.09)(33,2.08)(35,2.06)(36,2.04)(37,2.01)(38,1.96)(39,1.89)(40,1.77)(41,1.58)(42,1.30)(43,0.89)(44,0.35)(44.6,0)};
\addplot[fit, forget plot] coordinates {(0,1.84)(10,1.835)(20,1.83)(28,1.82)(31,1.815)(33,1.81)(35,1.79)(36,1.77)(37,1.75)(38,1.71)(39,1.65)(40,1.55)(41,1.39)(42,1.15)(43,0.79)(44,0.30)(44.5,0)};
\addplot[fit, forget plot] coordinates {(0,1.50)(10,1.50)(20,1.49)(28,1.485)(31,1.48)(33,1.475)(35,1.46)(36,1.45)(37,1.43)(38,1.40)(39,1.35)(40,1.27)(41,1.14)(42,0.95)(43,0.66)(44,0.24)(44.4,0)};
\addplot[fit, forget plot] coordinates {(0,1.18)(10,1.18)(20,1.175)(28,1.17)(31,1.165)(33,1.16)(35,1.15)(36,1.14)(37,1.125)(38,1.10)(39,1.06)(40,0.99)(41,0.88)(42,0.72)(43,0.48)(44,0.13)(44.2,0)};
\addplot[fit, forget plot] coordinates {(0,0.85)(10,0.85)(20,0.85)(28,0.845)(31,0.84)(33,0.835)(35,0.82)(36,0.80)(37,0.77)(38,0.72)(39,0.64)(40,0.52)(41,0.33)(41.8,0.1)(42,0)};
\end{axis}
\end{tikzpicture}
\end{document}
